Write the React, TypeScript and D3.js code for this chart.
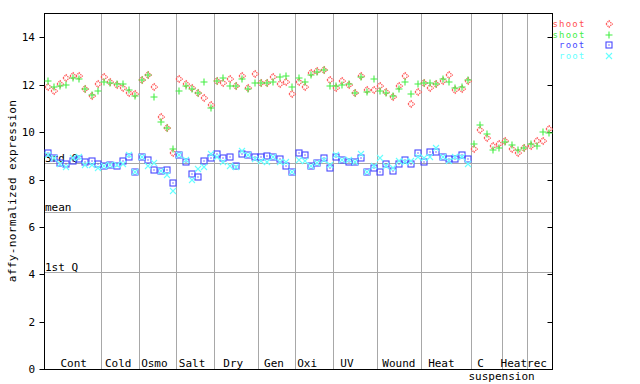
import React from "react";
import * as d3 from "d3";

const groupNames = ["Cont", "Cold", "Osmo", "Salt", "Dry", "Gen", "Oxi", "UV", "Wound", "Heat", "C", "Heat", "rec"];
const groupSizes = [9, 6, 6, 6, 7, 6, 6, 7, 7, 8, 5, 4, 4];
const yTicks = [0, 2, 4, 6, 8, 10, 12, 14];
const refLines = [
  { label: "3rd Q", value: 8.7 },
  { label: "mean", value: 6.63 },
  { label: "1st Q", value: 4.09 },
];

const shootRed = [
  11.89, 11.74, 12.02, 12.27, 12.36, 12.37, 11.83, 11.51, 12.02,
  12.34, 12.13, 11.99, 11.88, 11.64, 11.6,
  12.2, 12.41, 11.89, 10.63, 10.16, 9.11,
  12.24, 12.03, 11.85, 11.64, 11.43, 11.15,
  12.17, 12.06, 12.24, 11.95, 12.38, 11.85, 12.44,
  12.06, 12.06, 12.34, 12.02, 12.1, 11.6,
  12.13, 11.92, 12.48, 12.58, 12.62, 12.2,
  11.85, 12.16, 11.99, 11.64, 12.37, 11.78, 11.78,
  11.95, 11.68, 11.47, 11.95, 12.37, 11.19, 11.68,
  12.06, 11.85, 12.02, 12.17, 12.41, 11.78, 11.81, 12.17,
  9.28, 10.09, 9.74, 9.42, 9.5,
  9.64, 9.28, 9.11, 9.32,
  9.4, 9.63, 9.63, 10.12,
];
const shootGreen = [
  12.16, 11.92, 11.95, 11.99, 12.29, 12.24, 11.83, 11.55, 11.75,
  12.1, 12.09, 12.02, 12.02, 11.78, 11.53,
  12.18, 12.4, 11.47, 10.41, 10.16, 9.28,
  11.74, 11.96, 11.82, 11.64, 12.1, 11.01,
  12.17, 12.27, 11.95, 11.95, 12.24, 11.82, 12.06,
  12.06, 12.09, 12.1, 12.31, 12.37, 11.89,
  12.27, 12.1, 12.41, 12.55, 12.6, 11.95,
  11.95, 11.99, 12.03, 11.64, 12.34, 11.68, 12.24,
  11.74, 11.64, 11.53, 11.81, 12.1, 11.6, 12.02,
  12.06, 12.06, 12.03, 12.23, 12.1, 11.88, 11.89, 12.2,
  9.5, 10.3, 9.91, 9.25, 9.32,
  9.58, 9.46, 9.25, 9.32,
  9.5, 9.42, 10.0, 9.98,
];
const rootBlue = [
  9.12, 8.9, 8.69, 8.64, 8.79, 8.88, 8.72, 8.78, 8.65,
  8.55, 8.6, 8.57, 8.8, 8.94, 8.32,
  8.94, 8.83, 8.41, 8.38, 8.41, 7.84,
  9.02, 8.74, 8.24, 8.1, 8.78, 8.91,
  9.08, 8.9, 8.94, 8.57, 9.07, 9.04, 8.93,
  8.94, 8.98, 8.97, 8.85, 8.57, 8.31,
  9.11, 9.02, 8.55, 8.69, 8.91, 8.48,
  8.94, 8.83, 8.74, 8.72, 8.9, 8.31, 8.48,
  8.31, 8.64, 8.36, 8.64, 8.83, 8.64, 9.11,
  8.73, 9.16, 9.15, 8.94, 8.86, 8.86, 9.05, 8.86,
];
const rootCyan = [
  9.05, 8.9, 8.67, 8.54, 8.9, 8.94, 8.61, 8.63, 8.49,
  8.55, 8.6, 8.6, 8.66, 9.04, 8.32,
  8.94, 8.55, 8.69, 8.38, 8.18, 7.53,
  9.02, 8.83, 7.98, 8.46, 8.52, 9.08,
  8.97, 8.72, 8.57, 8.52, 9.22, 9.04, 8.88,
  8.77, 8.72, 8.97, 8.72, 8.72, 8.31,
  8.83, 8.8, 8.55, 8.69, 8.83, 8.62,
  9.04, 8.83, 8.83, 8.76, 9.06, 8.31, 8.57,
  8.9, 8.57, 8.48, 8.79, 8.76, 8.79, 8.94,
  8.9, 8.97, 9.32, 8.94, 8.8, 8.94, 8.94, 8.65,
];

const seriesNames = ["shoot", "shoot", "root", "root"];

// layout
const W = 640, H = 384;
const X0 = 44.5, X1 = 552.5, YB = 369.3, YT = 13.5;
const FONT = "'DejaVu Sans Mono', monospace";
const labelNudge = [1, -1.5, -3, -3, -2.5, -2.5, -7, -8, 0, -4.5, -6, -1, -3];
const colors = ["#ff5050", "#44ee44", "#4848ff", "#66ffff"];
const markerKinds = ["diamond", "plus", "square", "cross"];

function Marker({ kind, x, y, color }: { kind: string; x: number; y: number; color: string }) {
  const r = 3;
  if (kind === "diamond") {
    return (
      <path d={`M${x},${y - 3.2}L${x + 3.2},${y}L${x},${y + 3.2}L${x - 3.2},${y}Z`} fill="none" stroke={color} strokeWidth={1.4} strokeDasharray="1.1,0.9" />
    );
  }
  if (kind === "plus") {
    return <path d={`M${x - 3.5},${y}H${x + 3.5}M${x},${y - 3.5}V${y + 3.5}`} stroke={color} strokeWidth={1.1} fill="none" />;
  }
  if (kind === "square") {
    return (
      <g>
        <rect x={x - r} y={y - r} width={2 * r} height={2 * r} fill="none" stroke={color} strokeWidth={1.1} />
        <rect x={x - 0.6} y={y - 0.6} width={1.2} height={1.2} fill={color} />
      </g>
    );
  }
  return <path d={`M${x - r},${y - r}L${x + r},${y + r}M${x - r},${y + r}L${x + r},${y - r}`} stroke={color} strokeWidth={1.1} fill="none" />;
}

export default function App() {
  const n = d3.sum(groupSizes);
  const x = d3.scaleLinear().domain([0, n]).range([X0, X1]);
  const y = d3.scaleLinear().domain([0, 15]).range([YB, YT]);
  const bounds = d3.cumsum(groupSizes);
  const starts = [0, ...Array.from(bounds).slice(0, -1)];
  const series = [shootRed, shootGreen, rootBlue, rootCyan];
  const gray = "#a8a8a8";

  return (
    <svg width={W} height={H} style={{ position: "absolute", left: 0, top: 0, background: "#fff" }}>
      {/* group separators */}
      {Array.from(bounds).slice(0, -1).map((b, i) => (
        <line key={"s" + i} x1={Math.round(x(b)) + 0.5} x2={Math.round(x(b)) + 0.5} y1={YT} y2={YB} stroke={gray} strokeWidth={1} />
      ))}
      {/* reference lines */}
      {refLines.map((r) => (
        <g key={r.label}>
          <line x1={X0} x2={X1} y1={Math.round(y(r.value)) + 0.5} y2={Math.round(y(r.value)) + 0.5} stroke={gray} strokeWidth={1} />
          <text x={X0 + 0.5} y={Math.round(y(r.value)) - 1} fontFamily={FONT} fontSize={11} fill="#000">{r.label}</text>
        </g>
      ))}
      {/* frame */}
      <rect x={X0} y={YT} width={X1 - X0} height={YB - YT} fill="none" stroke="#000" strokeWidth={1} shapeRendering="crispEdges" />
      {/* y ticks */}
      {yTicks.map((t) => (
        <g key={"t" + t}>
          <line x1={X0 - 5} x2={X0} y1={Math.round(y(t)) + 0.5} y2={Math.round(y(t)) + 0.5} stroke="#000" />
          <line x1={X1 - 5} x2={X1} y1={Math.round(y(t)) + 0.5} y2={Math.round(y(t)) + 0.5} stroke="#000" />
          <text x={35} y={y(t) + 4} textAnchor="end" fontFamily={FONT} fontSize={11} fill="#000">{t}</text>
        </g>
      ))}
      <text transform={`translate(15.5,191) rotate(-90)`} textAnchor="middle" fontFamily={FONT} fontSize={11} letterSpacing={0.4} fill="#000">affy-normalized expression</text>
      {/* group labels */}
      {groupNames.map((g, i) => (
        <text key={"g" + i} x={(x(starts[i]) + x(bounds[i])) / 2 + labelNudge[i]} y={366.5} textAnchor="middle" fontFamily={FONT} fontSize={11} fill="#000">{g}</text>
      ))}
      <text x={x(starts[10]) - 2.5} y={380} fontFamily={FONT} fontSize={11} fill="#000">suspension</text>
      {/* data */}
      {series.map((s, si) => (
        <g key={"d" + si}>
          {s.map((v, i) => (
            <Marker key={i} kind={markerKinds[si]} x={Math.round(x(i + 0.5))} y={Math.round(y(v))} color={colors[si]} />
          ))}
        </g>
      ))}
      {/* legend */}
      {seriesNames.map((nm, i) => (
        <g key={"l" + i}>
          <text x={585.5} y={27 + i * 10.7} textAnchor="end" fontFamily={FONT} fontSize={9} letterSpacing={1.2} fill={colors[i]}>{nm}</text>
          <Marker kind={markerKinds[i]} x={609} y={Math.round(24 + i * 10.7)} color={colors[i]} />
        </g>
      ))}
    </svg>
  );
}
